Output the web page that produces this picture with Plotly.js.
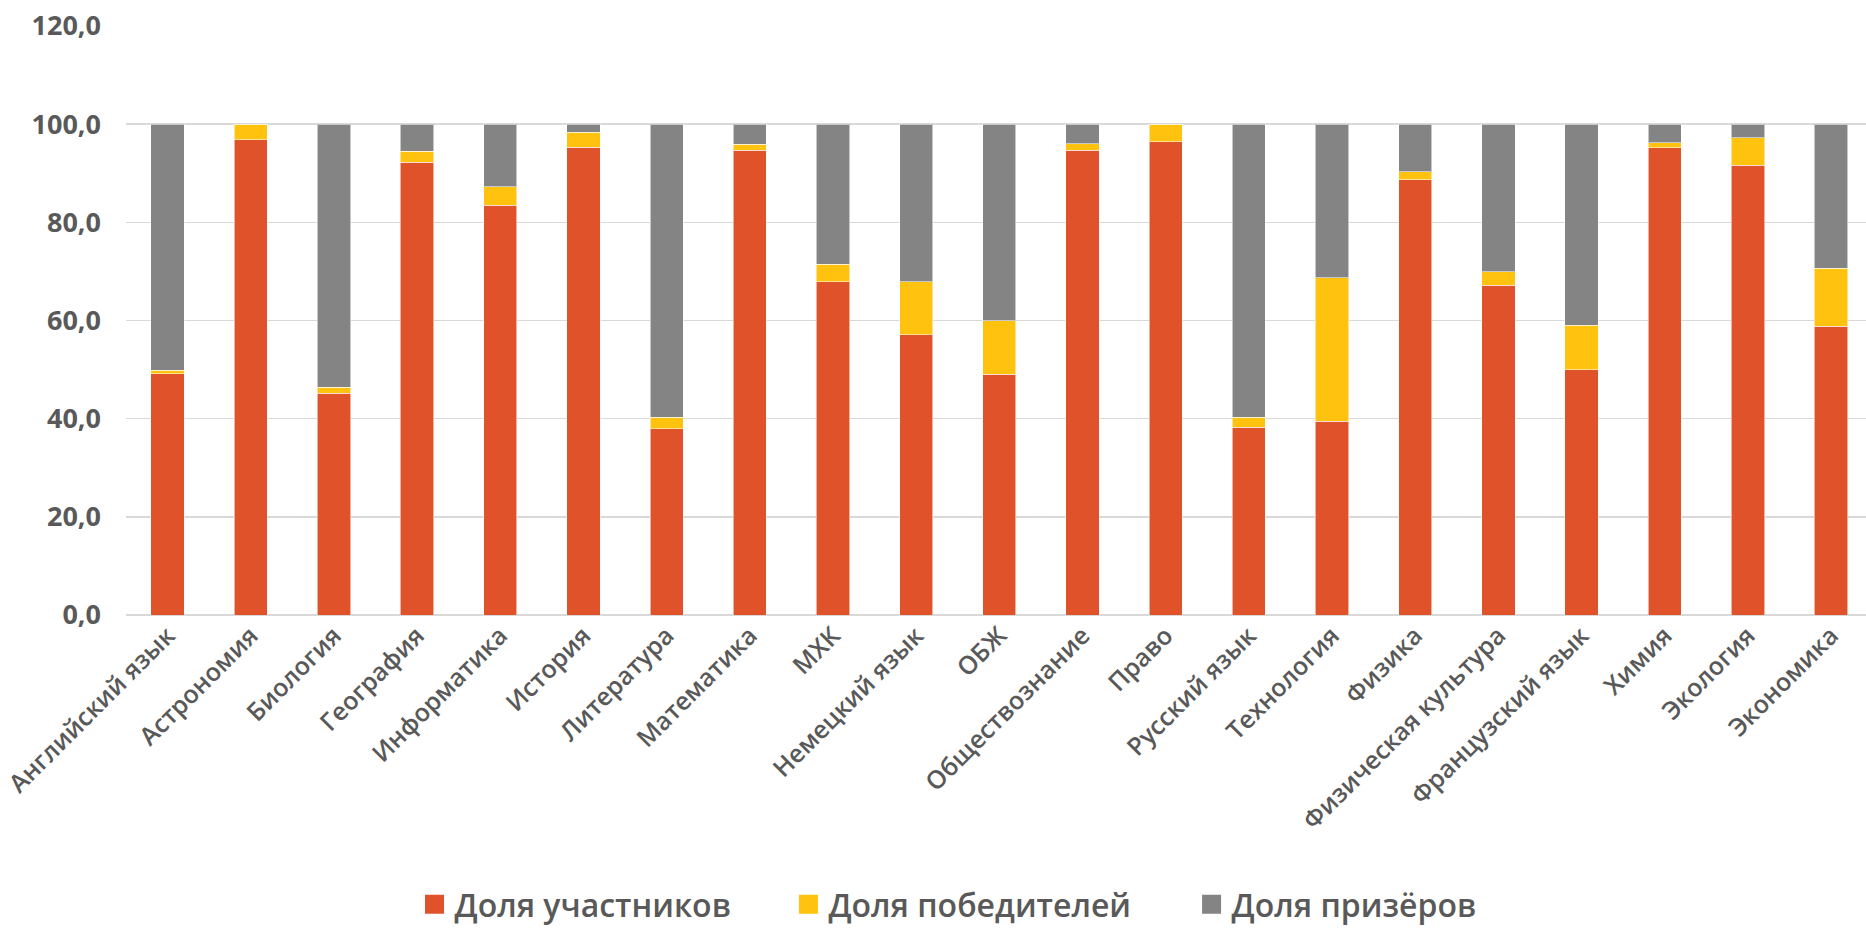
<!DOCTYPE html>
<html>
<head>
<meta charset="utf-8">
<script src="https://cdn.plot.ly/plotly-3.0.1.min.js"></script>
<style>html,body{margin:0;padding:0;background:#fff;}#chart{width:1866px;height:932px;}</style>
</head>
<body>
<div id="chart"></div>
<script>
const categories = ["Английский язык","Астрономия","Биология","География","Информатика","История","Литература","Математика","МХК","Немецкий язык","ОБЖ","Обществознание","Право","Русский язык","Технология","Физика","Физическая культура","Французский язык","Химия","Экология","Экономика"];
const participants = [49.2,96.8,45.2,92.2,83.5,95.3,37.9,94.7,67.9,57.1,49.0,94.7,96.4,38.3,39.5,88.7,67.2,50.0,95.2,91.6,58.8];
const winners = [0.7,3.2,1.2,2.3,3.8,3.1,2.4,1.2,3.6,10.8,10.9,1.3,3.6,2.0,29.2,1.6,2.7,9.0,1.0,5.6,11.8];
const prizewinners = [50.1,0.0,53.6,5.5,12.7,1.6,59.7,4.1,28.5,32.1,40.1,4.0,0.0,59.7,31.3,9.7,30.1,41.0,3.8,2.8,29.4];
const seriesNames = ["Доля участников","Доля победителей","Доля призёров"];
const tickVals = [0,20,40,60,80,100,120];

const colors = ["#E0532A","#FFC20E","#848484"];
const series = [participants, winners, prizewinners];
const legendIds = ['legend','legend2','legend3'];
const legendX = [0.1658, 0.3807, 0.6124];

const traces = series.map((vals, i) => ({
  type: 'bar',
  name: seriesNames[i],
  x: categories,
  y: vals,
  marker: {color: colors[i], line: {color: 'rgba(255,255,255,0.55)', width: 1}},
  showlegend: false,
  hoverinfo: 'x+y+name'
}));
// legend entries (square swatches, like the source)
seriesNames.forEach((nm, i) => {
  traces.push({
    type: 'scatter', mode: 'markers', name: nm,
    x: [categories[0]], y: [null],
    marker: {symbol: 'square', size: 16, color: colors[i], line: {color: colors[i], width: 3}},
    legend: legendIds[i], showlegend: true
  });
});

const font = "'Open Sans', 'Noto Sans', sans-serif";
const legendBase = (x) => ({
  orientation: 'h',
  x: x, xanchor: 'left',
  y: -0.492, yanchor: 'middle',
  font: {family: font, size: 32, color: '#595959', weight: 600},
  bgcolor: 'rgba(0,0,0,0)',
  itemwidth: 30
});

const layout = {
  width: 1866, height: 932,
  barmode: 'stack',
  bargap: 0.6,
  separators: ', ',
  paper_bgcolor: '#fff', plot_bgcolor: '#fff',
  margin: {l: 126, r: 0, t: 26, b: 314},
  font: {family: font, color: '#595959'},
  xaxis: {
    type: 'category',
    range: [-0.5, 20.42],
    tickangle: -45,
    tickfont: {family: font, size: 25, color: '#595959', weight: 600},
    showgrid: false, showline: false, zeroline: false, ticks: ''
  },
  yaxis: {
    range: [0, 120],
    tickvals: tickVals,
    tickformat: '.1f',
    tickfont: {family: font, size: 27, color: '#595959', weight: 700},
    showgrid: true, gridcolor: '#d9d9d9', gridwidth: 1.5,
    zeroline: true, zerolinecolor: '#d9d9d9', zerolinewidth: 1.5,
    showline: false, ticks: '',
    ticklabelstandoff: 24
  },
  legend: legendBase(legendX[0]),
  legend2: legendBase(legendX[1]),
  legend3: legendBase(legendX[2]),
  showlegend: true
};

Plotly.newPlot('chart', traces, layout, {displayModeBar: false, staticPlot: true});
</script>
</body>
</html>
